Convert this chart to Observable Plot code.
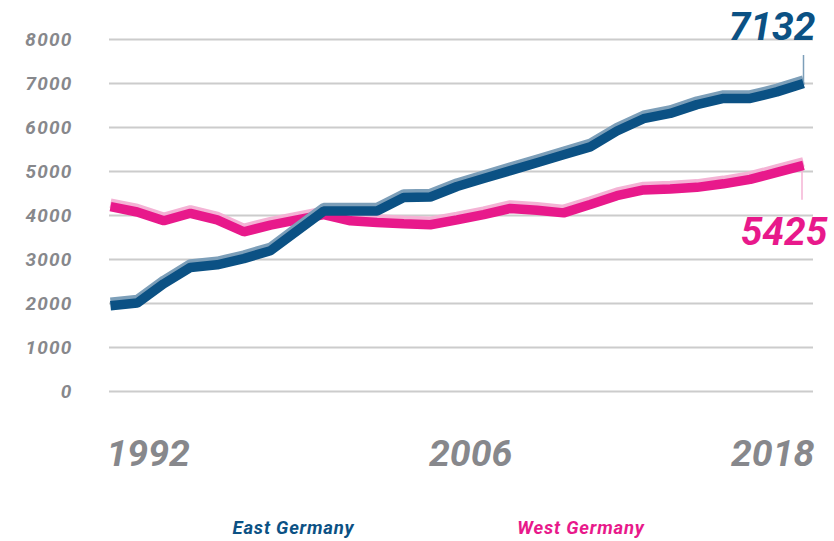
<!DOCTYPE html>
<html><head><meta charset="utf-8">
<script src="https://cdn.jsdelivr.net/npm/d3@7"></script>
<script src="https://cdn.jsdelivr.net/npm/@observablehq/plot@0.6"></script>
<style>
body{margin:0;background:#fff;font-family:Roboto,sans-serif;}
#chart svg{display:block;overflow:visible;}
#legend{position:relative;height:36px;width:834px;}
#legend span{position:absolute;top:11.5px;font-weight:700;font-style:italic;font-size:18.5px;letter-spacing:0.8px;transform:translateX(-50%);white-space:nowrap;line-height:normal;}
g[aria-label="y-axis tick label"] text{letter-spacing:1.2px;}
</style></head><body><div id="chart"></div><div id="legend"></div>
<script>
const years = [1992,1993,1994,1995,1996,1997,1998,1999,2000,2001,2002,2003,2004,2005,2006,2007,2008,2009,2010,2011,2012,2013,2014,2015,2016,2017,2018];
const east = [1950,2010,2450,2820,2880,3020,3200,3650,4100,4100,4100,4410,4420,4660,4840,5020,5200,5380,5560,5920,6200,6320,6520,6660,6660,6810,7000];
const west = [4200,4080,3880,4050,3900,3630,3780,3900,4020,3880,3840,3810,3790,3900,4020,4160,4120,4060,4250,4450,4580,4600,4640,4720,4820,4980,5140];
const yTicks = [0,1000,2000,3000,4000,5000,6000,7000,8000];
const xTickYears = [1992,2006,2018];
const seriesNames = ["East Germany","West Germany"];
const endLabels = ["7132","5425"];
const colors = {east:"#0b5184", eastLight:"#7d9fb9", west:"#e8198b", westLight:"#f4b3d5", grid:"#cccccc", tick:"#87888c"};

const data = years.map((y,i)=>({year:y, east:east[i], west:west[i]}));
const last = data[data.length-1];
const H = 505;
const lineOpts = {x:"year", strokeWidth:9.5, strokeLinejoin:"miter", strokeLinecap:"butt"};
const xLab = (yr, anchor, dx) => Plot.text([yr], {x:d=>d, text:d=>String(d), frameAnchor:"bottom", lineAnchor:"bottom", dy:74, dx, textAnchor:anchor, fontSize:37.5, fontWeight:"bold", fontStyle:"italic", fontFamily:"'Liberation Sans Narrow', 'Roboto', sans-serif", fill:colors.tick});

const chart = Plot.plot({
  width:834, height:H, marginLeft:110, marginRight:31, marginTop:39, marginBottom:H-391,
  style:{fontFamily:"Roboto, sans-serif", background:"#fff"},
  x:{domain:[1992,2018], axis:null},
  y:{domain:[0,8000], axis:null},
  marks:[
    Plot.ruleY(yTicks, {stroke:colors.grid, strokeWidth:2, insetLeft:-1, insetRight:-10}),
    Plot.axisY({ticks:yTicks, tickSize:0, tickPadding:38, tickFormat:d=>String(d), label:null, fontSize:19, fontWeight:"bold", fontStyle:"italic", color:colors.tick}),
    xLab(xTickYears[0], "start", -4),
    xLab(xTickYears[1], "middle", -13),
    xLab(xTickYears[2], "end", 11),
    Plot.ruleX([last], {x:"year", y1:"east", y2:"east", insetTop:-28, stroke:colors.eastLight, strokeWidth:1.5}),
    Plot.ruleX([last], {x:"year", y1:"west", y2:"west", insetBottom:-35, dx:-1.5, stroke:colors.westLight, strokeWidth:1.5}),
    Plot.line(data, {...lineOpts, y:"west", stroke:colors.westLight, dy:-3.5}),
    Plot.line(data, {...lineOpts, y:"west", stroke:colors.west}),
    Plot.line(data, {...lineOpts, y:"east", stroke:colors.eastLight, dy:-3.5}),
    Plot.line(data, {...lineOpts, y:"east", stroke:colors.east}),
    Plot.text([last], {x:"year", y:"east", text:()=>endLabels[0], textAnchor:"end", lineAnchor:"bottom", dx:12, dy:-43.7, fontSize:39, fontWeight:"bold", fontStyle:"italic", fill:colors.east}),
    Plot.text([last], {x:"year", y:"west", text:()=>endLabels[1], textAnchor:"end", lineAnchor:"bottom", dx:24, dy:80, fontSize:39, fontWeight:"bold", fontStyle:"italic", fill:colors.west})
  ]
});
document.getElementById("chart").appendChild(chart);
const legend = document.getElementById("legend");
const legendCenters = [293.5, 581];
seriesNames.forEach((name,i)=>{
  const s = document.createElement("span");
  s.textContent = name;
  s.style.left = legendCenters[i] + "px";
  s.style.color = i===0 ? colors.east : colors.west;
  legend.appendChild(s);
});
</script></body></html>
